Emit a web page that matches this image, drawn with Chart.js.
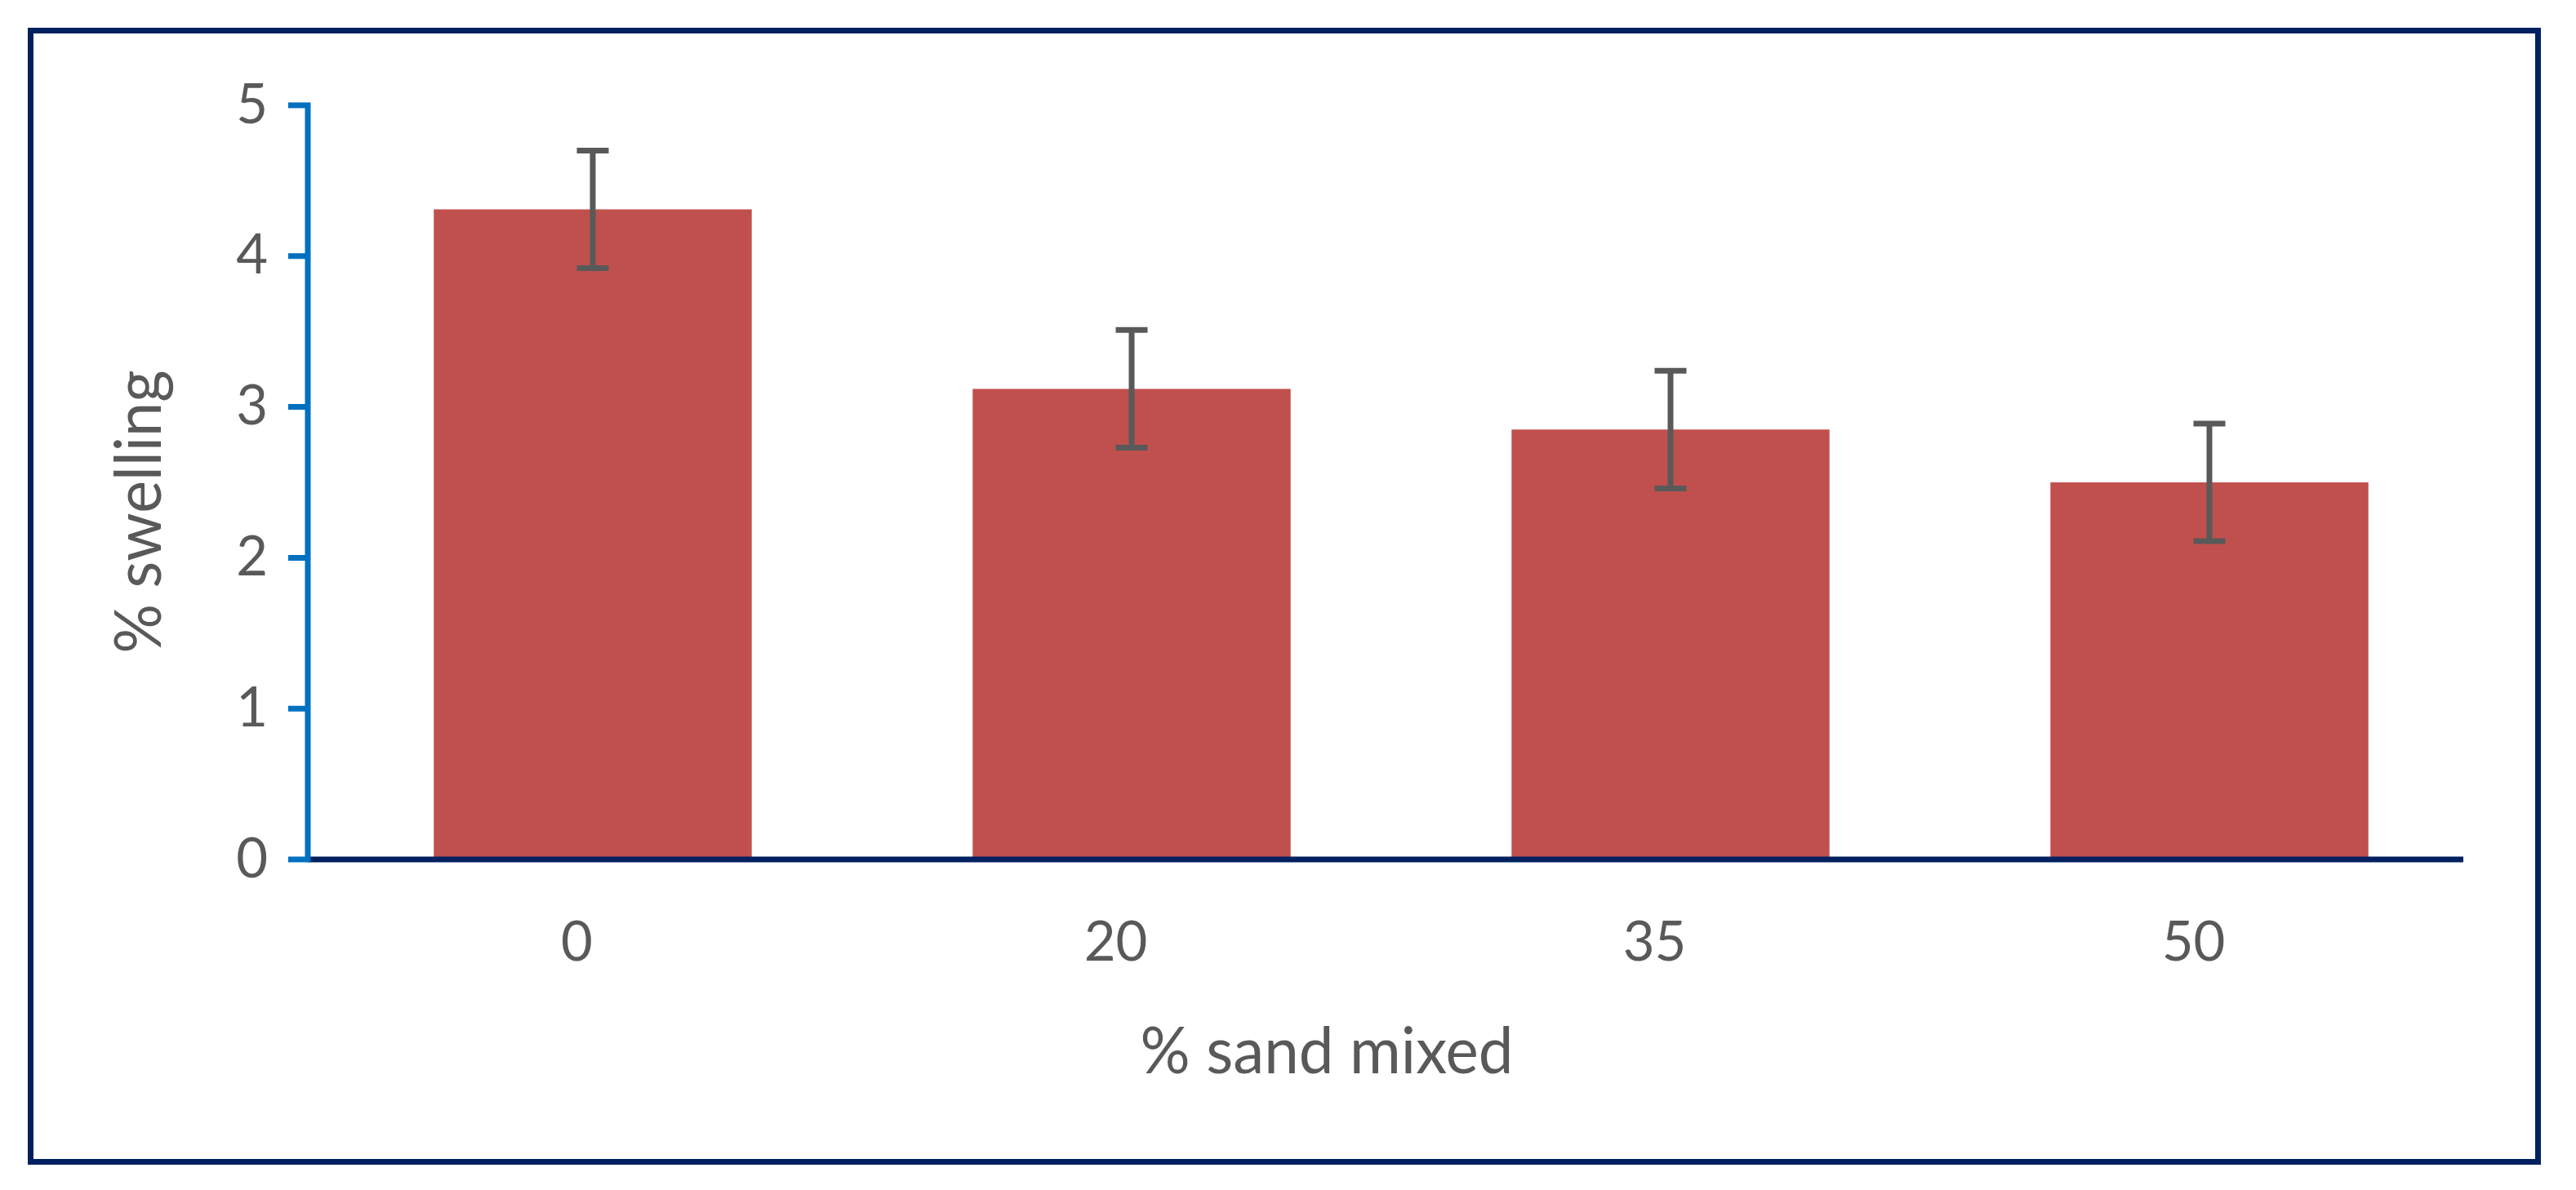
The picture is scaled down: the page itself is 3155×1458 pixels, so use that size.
<!DOCTYPE html>
<html>
<head>
<meta charset="utf-8">
<script src="https://cdn.jsdelivr.net/npm/chart.js@4.4.1/dist/chart.umd.min.js"></script>
<style>
    body { margin: 0; background: #ffffff; }
    canvas { display: block; }
</style>
</head>
<body>
<canvas id="myChart" width="3155" height="1458"></canvas>
<script>
var categories = ['0', '20', '35', '50'];
var swelling = [4.31, 3.12, 2.85, 2.50];
var errors = [0.39, 0.39, 0.39, 0.39];
var yTicks = [0, 1, 2, 3, 4, 5];
var xTitle = '% sand mixed';
var yTitle = '% swelling';

var textGrey = '#595959';
var navy = '#002060';
var blue = '#0070C0';

// excel style: frame, error bars, axes drawn by hand on top of the library scales
var excelLook = {
    id: 'excelLook',
    afterDatasetsDraw: function (chart) {
        var ctx = chart.ctx;
        var area = chart.chartArea;
        var y = chart.scales.y;
        var meta = chart.getDatasetMeta(0);
        var shift = 19;
        var ax = area.left - shift;
        var base = y.getPixelForValue(0);

        ctx.save();
        // error bars
        ctx.strokeStyle = textGrey;
        ctx.lineWidth = 7;
        meta.data.forEach(function (bar, i) {
            var top = y.getPixelForValue(swelling[i] + errors[i]);
            var bot = y.getPixelForValue(swelling[i] - errors[i]);
            ctx.beginPath();
            ctx.moveTo(bar.x, top);
            ctx.lineTo(bar.x, bot);
            ctx.moveTo(bar.x - 19.5, top);
            ctx.lineTo(bar.x + 19.5, top);
            ctx.moveTo(bar.x - 19.5, bot);
            ctx.lineTo(bar.x + 19.5, bot);
            ctx.stroke();
        });

        // x axis
        ctx.strokeStyle = navy;
        ctx.beginPath();
        ctx.moveTo(ax, base);
        ctx.lineTo(area.right - shift, base);
        ctx.stroke();

        // y axis + ticks
        ctx.strokeStyle = blue;
        ctx.beginPath();
        ctx.moveTo(ax, y.getPixelForValue(yTicks[yTicks.length - 1]) - 3.5);
        ctx.lineTo(ax, base);
        for (var i = 0; i < yTicks.length; i++) {
            var ty = y.getPixelForValue(yTicks[i]);
            ctx.moveTo(ax - 24, ty);
            ctx.lineTo(ax + 3.5, ty);
        }
        ctx.stroke();

        // axis titles
        ctx.fillStyle = textGrey;
        ctx.font = '80px Lato';
        ctx.textAlign = 'center';
        ctx.textBaseline = 'alphabetic';
        ctx.fillText(xTitle, 1625, 1315, 457);
        ctx.translate(197, 627);
        ctx.rotate(-Math.PI / 2);
        ctx.fillText(yTitle, 0, 0, 347);
        ctx.restore();

        // outer frame
        ctx.save();
        ctx.strokeStyle = navy;
        ctx.lineWidth = 7;
        ctx.strokeRect(37.5, 37.5, 3071, 1386);
        ctx.restore();
    }
};

var myChart = document.getElementById('myChart');
var chart = new Chart(myChart, {
    type: 'bar',
    data: {
        labels: categories,
        datasets: [{
            label: '% swelling',
            data: swelling,
            backgroundColor: '#C0504D',
            borderWidth: 0,
            categoryPercentage: 1,
            barPercentage: 0.59
        }]
    },
    options: {
        responsive: false,
        maintainAspectRatio: false,
        animation: false,
        layout: { padding: { top: 129, right: 119, left: 0, bottom: 0 } },
        plugins: {
            legend: { display: false },
            tooltip: { enabled: false }
        },
        scales: {
            x: {
                grid: { display: false },
                border: { display: false },
                ticks: {
                    color: textGrey,
                    font: { family: 'Lato', size: 67 },
                    labelOffset: -19.5,
                    padding: 54
                },
                afterFit: function (scale) { scale.height = 405; }
            },
            y: {
                min: 0,
                max: 5,
                grid: { display: false },
                border: { display: false },
                ticks: {
                    stepSize: 1,
                    color: textGrey,
                    font: { family: 'Lato', size: 67 },
                    padding: 60
                },
                afterFit: function (scale) { scale.width = 396; }
            }
        }
    },
    plugins: [excelLook]
});
</script>
</body>
</html>
